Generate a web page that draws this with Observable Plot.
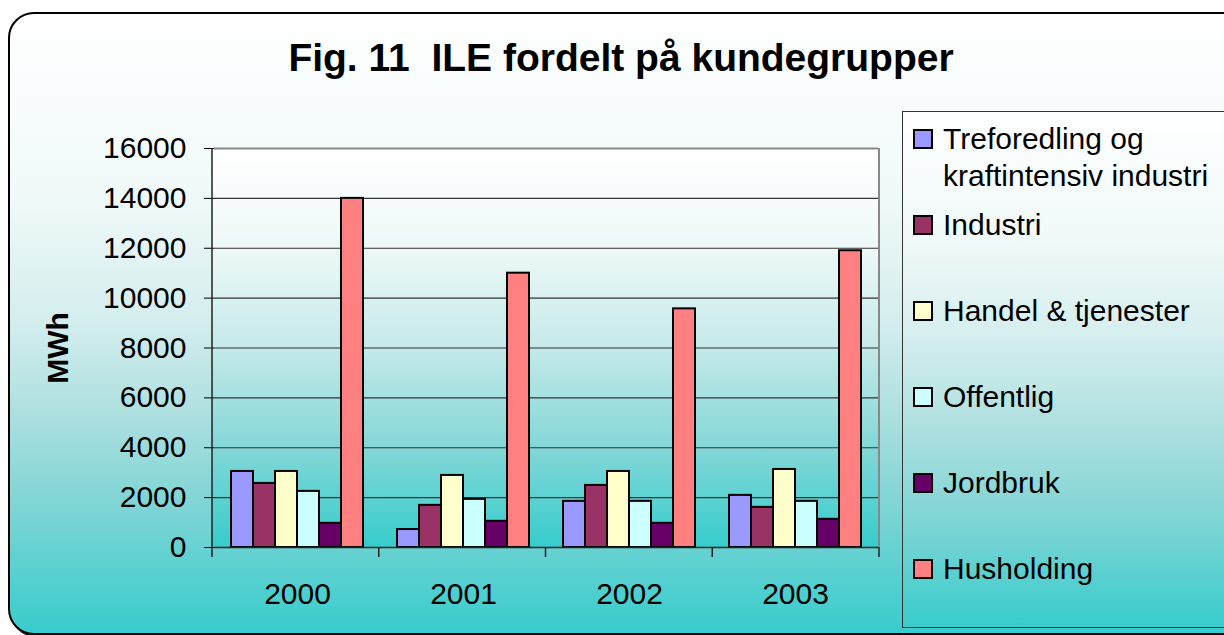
<!DOCTYPE html>
<html>
<head>
<meta charset="utf-8">
<script src="https://cdn.jsdelivr.net/npm/d3@7"></script>
<script src="https://cdn.jsdelivr.net/npm/@observablehq/plot@0.6"></script>
<style>
  html, body { margin: 0; padding: 0; background: #fff; }
  #wrap { position: relative; width: 1224px; height: 635px; overflow: hidden;
          font-family: "Liberation Sans", Arial, sans-serif; color: #000; }
  #frame { position: absolute; left: 8px; top: 12px; width: 1240px; height: 619px;
           border: 2px solid #000; border-radius: 26px; box-shadow: 2px 2px 0 #000;
           background: linear-gradient(to bottom, #ffffff 0%, #f0f9f9 30%, #d3eded 50%, #acdfdf 65%, #7dd4d4 80%, #38cccc 100%); }
  #title { position: absolute; left: 0; width: 1242px; top: 38px; text-align: center;
           font-weight: bold; font-size: 39px; line-height: 1; white-space: pre; }
  #ylabel { position: absolute; left: 58px; top: 348px; transform: translate(-50%, -50%) rotate(-90deg);
            font-weight: bold; font-size: 30px; line-height: 1; white-space: nowrap; }
  #legend { position: absolute; left: 902px; top: 111px; width: 340px; height: 515px;
            border: 1px solid #333;
            background: linear-gradient(to bottom, #ffffff 0%, #f0f9f9 25%, #d3eded 45%, #acdfdf 62%, #7dd4d4 80%, #38cccc 100%); }
  .item { position: absolute; left: 10px; display: flex; align-items: flex-start;
          font-size: 30px; line-height: 37px; }
  .sw { box-sizing: border-box; width: 20px; height: 20px; border: 2px solid #000; margin-top: 9px; flex: none; }
  .lab { margin-left: 10px; width: 280px; }
  #chart { position: absolute; left: 0; top: 0; }
</style>
</head>
<body>
<div id="wrap">
  <div id="frame"></div>
  <div id="title"></div>
  <div id="ylabel"></div>
  <div id="chart"></div>
  <div id="legend"></div>
</div>
<script>
// ---- data ----
const titleText = "Fig. 11  ILE fordelt på kundegrupper";
const yLabel = "MWh";
const years = ["2000", "2001", "2002", "2003"];
const seriesNames = ["Treforedling og kraftintensiv industri", "Industri", "Handel & tjenester", "Offentlig", "Jordbruk", "Husholding"];
const seriesColors = ["#9999ff", "#993366", "#ffffcc", "#ccffff", "#660066", "#ff8080"];
const treforedling = [3050, 720, 1850, 2090];
const industri = [2570, 1690, 2490, 1610];
const handel = [3050, 2890, 3050, 3130];
const offentlig = [2250, 1930, 1850, 1850];
const jordbruk = [970, 1050, 970, 1130];
const husholding = [14000, 11000, 9570, 11900];
const yTicks = [0, 2000, 4000, 6000, 8000, 10000, 12000, 14000, 16000];

const seriesValues = [treforedling, industri, handel, offentlig, jordbruk, husholding];
const rows = [];
years.forEach((yr, i) => seriesNames.forEach((s, j) => rows.push({year: yr, series: s, value: seriesValues[j][i]})));
const yMax = yTicks[yTicks.length - 1];

document.getElementById("title").textContent = titleText;
document.getElementById("ylabel").textContent = yLabel;

// ---- legend ----
const legend = d3.select("#legend");
seriesNames.forEach((s, i) => {
  const it = legend.append("div").attr("class", "item").style("top", (7.5 + 86 * i) + "px");
  it.append("div").attr("class", "sw").style("background", seriesColors[i]);
  it.append("div").attr("class", "lab").text(s);
});

// ---- plot ----
const W = 900, H = 635, ML = 212, MR = 21, MT = 148, MB = 88;
const plot = Plot.plot({
  width: W, height: H,
  marginLeft: ML, marginRight: MR, marginTop: MT, marginBottom: MB,
  style: {background: "transparent", fontSize: "30px", fontFamily: "Liberation Sans, Arial, sans-serif", color: "#000", overflow: "visible"},
  facet: {data: rows, x: "year"},
  fx: {domain: years, padding: 0, axis: "bottom", tickSize: 0, tickPadding: 35, label: null},
  x: {domain: seriesNames, axis: null, paddingInner: 0, paddingOuter: 0.71},
  y: {domain: [0, yMax], ticks: yTicks, tickSize: 10, tickPadding: 18, tickFormat: d3.format("d"), label: null},
  color: {domain: seriesNames, range: seriesColors},
  marks: [
    Plot.ruleY(yTicks.filter(t => t > 0 && t < yMax), {stroke: "#333", strokeWidth: 1.2}),
    Plot.ruleY([yMax], {stroke: "#888", strokeWidth: 2}),
    Plot.barY(rows, {x: "series", y: "value", fill: "series", stroke: "#000", strokeWidth: 2, inset: 0}),
    Plot.ruleY([0], {stroke: "#222", strokeWidth: 1.5})
  ]
});
document.getElementById("chart").appendChild(plot);

// ---- plot-area background, axis lines and category boundary ticks ----
const svg = d3.select(plot);
const ys = plot.scale("y");
const y = d3.scaleLinear(ys.domain, ys.range);
const fx = d3.scaleBand(years, [ML, W - MR]).padding(0);
svg.insert("rect", ":first-child")
  .attr("x", fx.range()[0]).attr("y", y(yMax))
  .attr("width", fx.range()[1] - fx.range()[0]).attr("height", y(0) - y(yMax))
  .attr("fill", "url(#plotGrad)");
const grad = svg.insert("defs", ":first-child").append("linearGradient")
  .attr("id", "plotGrad").attr("x1", 0).attr("y1", 0).attr("x2", 0).attr("y2", 1);
[[0, "#ffffff"], [0.25, "#eef8f8"], [0.5, "#c5e9e9"], [0.75, "#84d7d7"], [1, "#36cccc"]]
  .forEach(([o, c]) => grad.append("stop").attr("offset", o).attr("stop-color", c));
const deco = svg.append("g");
deco.append("line").attr("x1", fx.range()[0]).attr("x2", fx.range()[0])
  .attr("y1", y(yMax)).attr("y2", y(0) + 10).attr("stroke", "#222").attr("stroke-width", 1.5);
deco.append("line").attr("x1", fx.range()[1]).attr("x2", fx.range()[1])
  .attr("y1", y(yMax)).attr("y2", y(0)).attr("stroke", "#888").attr("stroke-width", 2);
years.forEach(yr => {
  const xe = fx(yr) + fx.bandwidth();
  deco.append("line").attr("x1", xe).attr("x2", xe)
    .attr("y1", y(0)).attr("y2", y(0) + 10).attr("stroke", "#222").attr("stroke-width", 1.5);
});
</script>
</body>
</html>
